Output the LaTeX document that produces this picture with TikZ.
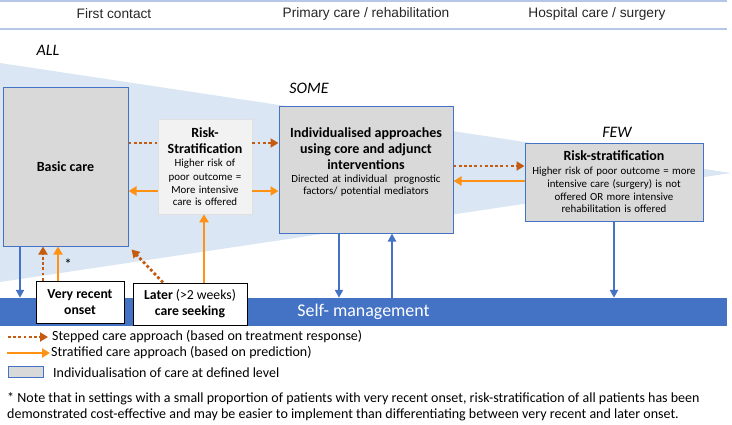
\documentclass[tikz,border=0pt]{standalone}
\usepackage{fontspec}
\setmainfont{Carlito}
\newfontfamily\headfont{Liberation Sans}
\usetikzlibrary{calc,arrows.meta}

\definecolor{wedgeblue}{RGB}{218,230,243}
\definecolor{boxblue}{RGB}{68,114,196}
\definecolor{stepcol}{RGB}{197,90,17}
\definecolor{stratcol}{RGB}{255,145,20}
\definecolor{boxgray}{RGB}{217,217,217}
\definecolor{softgray}{RGB}{242,242,242}
\definecolor{headline}{RGB}{180,199,231}

\newcommand\bigbold{\fontsize{14}{16}\selectfont\bfseries}
\newcommand\smalltext{\fontsize{10.9}{13.3}\selectfont\mdseries}

\begin{document}
\begin{tikzpicture}[x=1pt, y=-1pt,
  level/.style={draw=boxblue, line width=1pt, fill=boxgray, align=center, inner sep=1pt},
  riskbox/.style={draw=black!12, line width=0.7pt, fill=softgray, align=center, inner sep=1pt},
  onset/.style={draw=black, line width=1pt, fill=white, align=center, font=\fontsize{13.7}{16}\selectfont},
  stepped/.style={draw=stepcol, line width=2.8pt, dash pattern=on 2.8pt off 2.4pt, -{Triangle[length=8pt,width=9pt]}},
  stratified/.style={draw=stratcol, line width=2.8pt, -{Triangle[length=8pt,width=9pt]}},
  selfarrow/.style={draw=boxblue, line width=2.5pt, -{Triangle[length=8pt,width=8pt]}},
  head/.style={font=\headfont\fontsize{13.7}{16}\selectfont, text=black!85},
  share/.style={font=\fontsize{16}{19}\selectfont\itshape},
  legend/.style={anchor=west, inner sep=0pt, font=\fontsize{14}{15.5}\selectfont}]

  \useasboundingbox (0,0) rectangle (732,424);

  % Header
  \draw[headline, line width=1.5pt] (0,1) -- (727,1);
  \draw[headline, line width=1.5pt] (0,29) -- (727,29);
  \node[head] (hfirst) at (114,14) {First contact};
  \node[head] (hprimary) at (366,14) {Primary care / rehabilitation};
  \node[head] (hhospital) at (597,14) {Hospital care / surgery};

  % Wedge of patients
  \fill[wedgeblue] (0,63) -- (731,173) -- (0,282) -- cycle;
  \node[share] (all) at (48,50) {ALL};
  \node[share] (some) at (309,88) {SOME};
  \node[share] (few) at (617,132) {FEW};

  % Boxes
  \node[level, minimum width=125pt, minimum height=159pt] (basic) at (65.5,166.5) {\bigbold Basic care};
  \node[riskbox, minimum width=94pt, minimum height=95pt, text width=90pt] (riskA) at (205,166.5)
    {\bigbold Risk-\\ Stratification\\ \smalltext Higher risk of\\ poor outcome =\\ More intensive\\ care is offered};
  \node[level, minimum width=174pt, minimum height=127pt] (indiv) at (366,169.5) {};
  \node[align=center, text width=170pt, inner sep=0pt] (indivtxt) at (366,162)
    {\bigbold Individualised approaches\\ using core and adjunct\\ interventions\\
     \smalltext Directed at individual\ \ prognostic\\ factors/ potential mediators};
  \node[level, minimum width=178pt, minimum height=78pt, text width=174pt] (riskB) at (614,182)
    {\bigbold Risk-stratification\\ \smalltext Higher risk of poor outcome = more\\ intensive care (surgery) is not\\ offered OR more intensive\\ rehabilitation is offered};

  % Self-management bar and onset boxes
  \node[fill=boxblue, minimum width=727pt, minimum height=28pt, inner sep=0pt, text=white,
    font=\fontsize{17.9}{20}\selectfont] (bar) at (363.5,312) {Self- management};
  \node[onset, minimum width=88pt, minimum height=42pt] (recent) at (80,302) {\bfseries Very recent\\ \bfseries onset};
  \node[onset, minimum width=114pt, minimum height=42pt] (later) at (190,304) {\textbf{Later} (>2 weeks)\\ \bfseries care seeking};
  \node[font=\fontsize{15}{16}\selectfont] (star) at (68,264) {*};

  % Stepped arrows
  \draw[stepped, -] (basic.east |- 0,143) -- (riskA.west |- 0,143);
  \draw[stepped] (riskA.east |- 0,143) -- (indiv.west |- 0,143);
  \draw[stepped] (indiv.east |- 0,166) -- (riskB.west |- 0,166);
  \draw[stepped] (recent.north -| 43,0) -- (basic.south -| 43,0);
  \draw[stepped] (later.north -| 163,0) -- ($(basic.south east)+(3,3)$);

  % Stratified arrows
  \draw[stratified] (riskA.west |- 0,191) -- (basic.east |- 0,191);
  \draw[stratified] (riskA.east |- 0,191) -- (indiv.west |- 0,191);
  \draw[stratified] (riskB.west |- 0,181) -- (indiv.east |- 0,181);
  \draw[stratified] (recent.north -| 58,0) -- (basic.south -| 58,0);
  \draw[stratified] (later.north -| 204,0) -- (riskA.south -| 204,0);

  % Self-management arrows
  \draw[selfarrow] (basic.south -| 20,0) -- (bar.north -| 20,0);
  \draw[selfarrow] (indiv.south -| 339,0) -- (bar.north -| 339,0);
  \draw[selfarrow] (bar.north -| 392,0) -- (indiv.south -| 392,0);
  \draw[selfarrow] (riskB.south) -- (bar.north -| riskB.south);

  % Legend
  \coordinate (ls1) at (8,337);
  \coordinate (ls2) at (48,337);
  \coordinate (lt1) at (7,353);
  \coordinate (lt2) at (50,353);
  \draw[stepped] (ls1) -- (ls2);
  \draw[stratified] (lt1) -- (lt2);
  \node[legend] (legstep) at (52,337) {Stepped care approach (based on treatment response)};
  \node[legend] (legstrat) at (51,353) {Stratified care approach (based on prediction)};
  \node[level, minimum width=35pt, minimum height=11pt, inner sep=0pt] (legbox) at (25.5,371.5) {};
  \node[legend] (leglevel) at (53,373) {Individualisation of care at defined level};
  \node[legend, align=left] (note) at (7,406.5)
    {* Note that in settings with a small proportion of patients with very recent onset, risk-stratification of all patients has been\\
     demonstrated cost-effective and may be easier to implement than differentiating between very recent and later onset.};

\end{tikzpicture}
\end{document}
